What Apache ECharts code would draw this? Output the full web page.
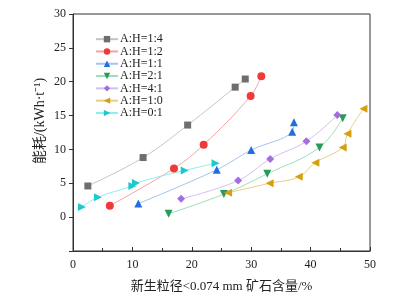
<!DOCTYPE html>
<html><head><meta charset="utf-8">
<script src="https://cdn.jsdelivr.net/npm/echarts@6/dist/echarts.min.js"></script>
<style>html,body{margin:0;padding:0;background:#fff}#c{width:394px;height:298px}</style>
</head><body><div id="c"></div>
<script>
const seriesNames = ['A:H=1:4','A:H=1:2','A:H=1:1','A:H=2:1','A:H=4:1','A:H=1:0','A:H=0:1'];
const s14x = [2.5, 11.8, 19.3, 27.3, 29.0];
const s14y = [4.6, 8.8, 13.6, 19.2, 20.4];
const s12x = [6.2, 17.0, 22.0, 29.9, 31.7];
const s12y = [1.7, 7.2, 10.7, 17.9, 20.8];
const s11x = [11.0, 24.2, 30.0, 36.9, 37.2];
const s11y = [2.0, 7.0, 9.9, 12.6, 14.0];
const s21x = [16.1, 25.4, 32.7, 41.5, 45.4];
const s21y = [0.5, 3.4, 6.4, 10.3, 14.6];
const s41x = [18.2, 27.8, 33.2, 39.3, 44.5];
const s41y = [2.7, 5.4, 8.6, 11.2, 15.1];
const s10x = [26.1, 33.1, 38.0, 40.8, 45.4, 46.2, 48.9];
const s10y = [3.6, 5.0, 5.95, 8.05, 10.3, 12.3, 16.0];
const s01x = [1.5, 4.2, 10.0, 10.6, 18.8, 24.0];
const s01y = [1.5, 2.95, 4.6, 5.05, 6.9, 7.95];
const xTicks = [0, 10, 20, 30, 40, 50];
const yTicks = [0, 5, 10, 15, 20, 25, 30];
const yTitle = '能耗/(kWh·t⁻¹)';
const xTitle = '新生粒径<0.074 mm 矿石含量/%';

const xs = [s14x, s12x, s11x, s21x, s41x, s10x, s01x];
const ys = [s14y, s12y, s11y, s21y, s41y, s10y, s01y];
const markColors = ['#6e6e6e','#f03a3a','#1f6fe0','#2a9a5c','#a46ee0','#d4a010','#1ec8cc'];
const lineColors = ['#c4c4c4','#f7a3a3','#a3c4f0','#9fdcbc','#d2bff2','#e9cd82','#8eeeee'];
const symbols = ['rect','circle','triangle','triangle','diamond','triangle','triangle'];
const rot = [0,0,0,180,0,90,-90];
const sizes = [7,8,8,8,8,8,8];

const serif = '"Liberation Serif","Times New Roman","Noto Sans CJK SC",serif';
const series = seriesNames.map((n,i)=>({
  name:n, type:'line', smooth:0.4,
  data: xs[i].map((x,j)=>[x, ys[i][j]]),
  symbol: symbols[i], symbolRotate: rot[i], symbolSize: sizes[i],
  itemStyle:{color:markColors[i]},
  lineStyle:{color:lineColors[i], width:1},
  emphasis:{disabled:true}
}));

const chart = echarts.init(document.getElementById('c'));
chart.setOption({
  animation:false,
  grid:{left:73, right:24, top:14, bottom:45, show:true, borderColor:'#333', borderWidth:1},
  legend:{
    orient:'vertical', left:95, top:33, padding:0, itemGap:0, itemWidth:22, itemHeight:8,
    textStyle:{fontFamily:serif, fontSize:12, lineHeight:12.3, color:'#222', padding:[0,0,0,-3]},
    data:seriesNames
  },
  graphic:[{
    type:'text', x:40, y:121, rotation:Math.PI/2,
    style:{text:yTitle, font:'14px '+serif, fill:'#222', align:'center', verticalAlign:'middle'}
  }],
  xAxis:{
    type:'value', min:0, max:50, interval:10,
    name:xTitle, nameLocation:'middle', nameGap:29,
    nameTextStyle:{fontFamily:serif, fontSize:13, color:'#222'},
    axisLine:{onZero:false, lineStyle:{color:'#333'}},
    axisTick:{inside:true, length:4, lineStyle:{color:'#333'}},
    minorTick:{show:true, splitNumber:2, length:3, lineStyle:{color:'#333'}},
    axisLabel:{fontFamily:serif, fontSize:12, color:'#222', margin:8, formatter:v=>xTicks.includes(v)?String(v):''},
    splitLine:{show:false}
  },
  yAxis:{
    type:'value', min:-5, max:30, interval:5,
    axisLine:{onZero:false, lineStyle:{color:'#333'}},
    axisTick:{inside:false, length:4, lineStyle:{color:'#333'}},
    axisLabel:{fontFamily:serif, fontSize:12, color:'#222', margin:7, formatter:v=>yTicks.includes(v)?String(v):''},
    splitLine:{show:false}
  },
  series: series
});
</script></body></html>
